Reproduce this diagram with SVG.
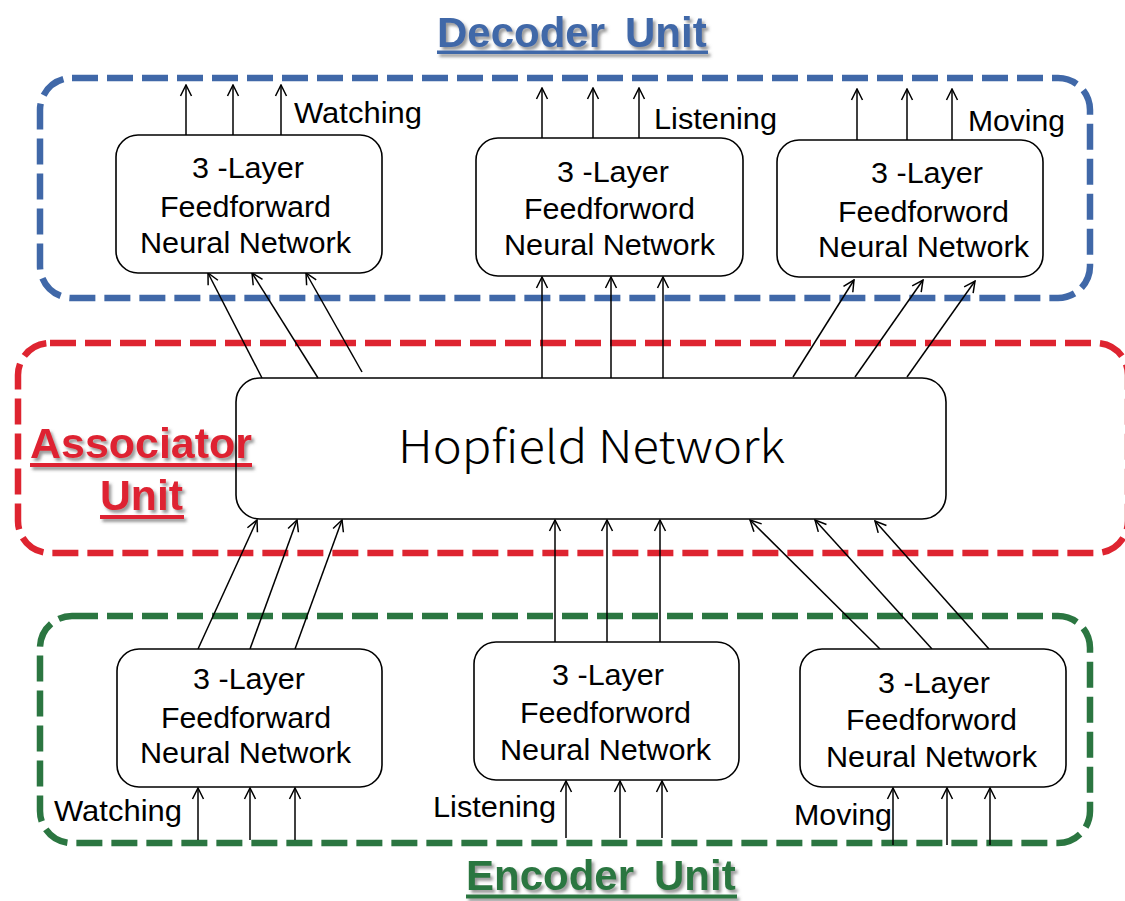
<svg xmlns="http://www.w3.org/2000/svg" width="1125" height="901" viewBox="0 0 1125 901">
<style>
.unit{fill:none;stroke-width:6.5;stroke-dasharray:26 9}
.box{fill:#fff;stroke:#000;stroke-width:1.6}
.t{font-family:"Liberation Sans",Arial,sans-serif;font-size:30px;fill:#000}
.title{font-family:"Liberation Sans",Arial,sans-serif;font-size:42px;font-weight:bold}
.c line{stroke:#000;stroke-width:1.5;marker-end:url(#ah)}
</style>
<defs>
<marker id="ah" markerUnits="userSpaceOnUse" markerWidth="14" markerHeight="14" viewBox="0 0 14 14" refX="13" refY="7" orient="auto">
<path d="M2,1.5 L13,7 L2,12.5" fill="none" stroke="#000" stroke-width="1.5"/>
</marker>
<filter id="sh" x="-5%" y="-20%" width="115%" height="150%">
<feDropShadow dx="2.5" dy="3" stdDeviation="1.5" flood-color="#555" flood-opacity="0.6"/>
</filter>
</defs>
<rect width="1125" height="901" fill="#fff"/>

<g id="decoder-unit">
<rect class="unit" x="40" y="78" width="1050" height="220" rx="32" stroke="#4068A8"/>
<g filter="url(#sh)" fill="#4068A8">
<text class="title" x="437" y="47">Decoder</text>
<text class="title" x="625" y="47">Unit</text>
<rect x="437" y="50.5" width="271" height="3.5"/>
</g>
</g>

<g id="associator-unit">
<rect class="unit" x="18" y="343" width="1110" height="210" rx="32" stroke="#DE2430"/>
<g filter="url(#sh)" fill="#DE2430">
<text class="title" x="30" y="458" textLength="222" lengthAdjust="spacingAndGlyphs">Associator</text>
<rect x="30" y="463" width="222" height="4"/>
<text class="title" x="100" y="510" textLength="83" lengthAdjust="spacingAndGlyphs">Unit</text>
<rect x="100" y="515" width="84" height="4"/>
</g>
</g>

<g id="encoder-unit">
<rect class="unit" x="40" y="616" width="1050" height="227" rx="32" stroke="#2B7641"/>
<g filter="url(#sh)" fill="#2B7641">
<text class="title" x="466" y="890">Encoder</text>
<text class="title" x="654" y="890">Unit</text>
<rect x="466" y="894.5" width="271" height="4"/>
</g>
</g>

<g id="connectors" class="c">
<line x1="186" y1="135" x2="186" y2="85"/>
<line x1="233" y1="135" x2="233" y2="85"/>
<line x1="281" y1="135" x2="281" y2="85"/>
<line x1="542" y1="138" x2="542" y2="88"/>
<line x1="593" y1="138" x2="593" y2="88"/>
<line x1="639" y1="138" x2="639" y2="88"/>
<line x1="857" y1="140" x2="857" y2="89"/>
<line x1="907" y1="140" x2="907" y2="89"/>
<line x1="952" y1="140" x2="952" y2="89"/>

<line x1="262" y1="378" x2="208" y2="273"/>
<line x1="318" y1="378" x2="252" y2="273"/>
<line x1="362" y1="372" x2="306" y2="273"/>
<line x1="542" y1="378" x2="542" y2="277"/>
<line x1="611" y1="378" x2="611" y2="277"/>
<line x1="663" y1="378" x2="663" y2="277"/>
<line x1="793" y1="377" x2="854" y2="280"/>
<line x1="855" y1="377" x2="923" y2="280"/>
<line x1="907" y1="377" x2="975" y2="281"/>

<line x1="198" y1="649" x2="257" y2="520"/>
<line x1="250" y1="649" x2="297" y2="520"/>
<line x1="295" y1="649" x2="342" y2="520"/>
<line x1="555" y1="642" x2="555" y2="520"/>
<line x1="607" y1="642" x2="607" y2="520"/>
<line x1="660" y1="642" x2="660" y2="520"/>
<line x1="880" y1="649" x2="750" y2="520"/>
<line x1="932" y1="649" x2="815" y2="520"/>
<line x1="989" y1="649" x2="875" y2="521"/>

<line x1="198" y1="840" x2="198" y2="788"/>
<line x1="250" y1="840" x2="250" y2="788"/>
<line x1="295" y1="840" x2="295" y2="788"/>
<line x1="566" y1="838" x2="566" y2="781"/>
<line x1="620" y1="838" x2="620" y2="781"/>
<line x1="662" y1="838" x2="662" y2="781"/>
<line x1="893" y1="845" x2="893" y2="788"/>
<line x1="947" y1="845" x2="947" y2="788"/>
<line x1="990" y1="845" x2="990" y2="788"/>
</g>

<g id="labels">
<text class="t" x="294" y="123" textLength="128" lengthAdjust="spacingAndGlyphs">Watching</text>
<text class="t" x="654" y="129" textLength="123" lengthAdjust="spacingAndGlyphs">Listening</text>
<text class="t" x="968" y="131" textLength="97" lengthAdjust="spacingAndGlyphs">Moving</text>
<text class="t" x="54" y="821" textLength="128" lengthAdjust="spacingAndGlyphs">Watching</text>
<text class="t" x="433" y="817" textLength="123" lengthAdjust="spacingAndGlyphs">Listening</text>
<text class="t" x="794" y="825" textLength="98" lengthAdjust="spacingAndGlyphs">Moving</text>
</g>

<g id="decoder-watching">
<rect class="box" x="116" y="135" width="266" height="138" rx="22"/>
<text class="t" x="192" y="178" textLength="112" lengthAdjust="spacingAndGlyphs">3 -Layer</text>
<text class="t" x="160" y="217" textLength="171" lengthAdjust="spacingAndGlyphs">Feedforward</text>
<text class="t" x="140" y="253" textLength="211" lengthAdjust="spacingAndGlyphs">Neural Network</text>
</g>
<g id="decoder-listening">
<rect class="box" x="476" y="138" width="267" height="138" rx="22"/>
<text class="t" x="557" y="182" textLength="112" lengthAdjust="spacingAndGlyphs">3 -Layer</text>
<text class="t" x="524" y="219" textLength="171" lengthAdjust="spacingAndGlyphs">Feedforword</text>
<text class="t" x="504" y="255" textLength="211" lengthAdjust="spacingAndGlyphs">Neural Network</text>
</g>
<g id="decoder-moving">
<rect class="box" x="777" y="140" width="266" height="137" rx="22"/>
<text class="t" x="871" y="183" textLength="112" lengthAdjust="spacingAndGlyphs">3 -Layer</text>
<text class="t" x="838" y="222" textLength="171" lengthAdjust="spacingAndGlyphs">Feedforword</text>
<text class="t" x="818" y="257" textLength="211" lengthAdjust="spacingAndGlyphs">Neural Network</text>
</g>

<g id="hopfield">
<rect x="236" y="378" width="710" height="141" rx="24" fill="none" stroke="#000" stroke-width="1.6"/>
<text x="398" y="463" font-family="'Noto Sans CJK JP','Noto Sans',sans-serif" font-weight="300" font-size="45" textLength="387" lengthAdjust="spacingAndGlyphs">Hopfield Network</text>
</g>

<g id="encoder-watching">
<rect class="box" x="117" y="649" width="265" height="138" rx="22"/>
<text class="t" x="193" y="689" textLength="112" lengthAdjust="spacingAndGlyphs">3 -Layer</text>
<text class="t" x="161" y="728" textLength="170" lengthAdjust="spacingAndGlyphs">Feedforward</text>
<text class="t" x="140" y="763" textLength="211" lengthAdjust="spacingAndGlyphs">Neural Network</text>
</g>
<g id="encoder-listening">
<rect class="box" x="474" y="642" width="265" height="138" rx="22"/>
<text class="t" x="552" y="685" textLength="112" lengthAdjust="spacingAndGlyphs">3 -Layer</text>
<text class="t" x="520" y="723" textLength="171" lengthAdjust="spacingAndGlyphs">Feedforword</text>
<text class="t" x="500" y="760" textLength="211" lengthAdjust="spacingAndGlyphs">Neural Network</text>
</g>
<g id="encoder-moving">
<rect class="box" x="800" y="649" width="266" height="138" rx="22"/>
<text class="t" x="878" y="693" textLength="112" lengthAdjust="spacingAndGlyphs">3 -Layer</text>
<text class="t" x="846" y="730" textLength="171" lengthAdjust="spacingAndGlyphs">Feedforword</text>
<text class="t" x="826" y="767" textLength="211" lengthAdjust="spacingAndGlyphs">Neural Network</text>
</g>
</svg>
